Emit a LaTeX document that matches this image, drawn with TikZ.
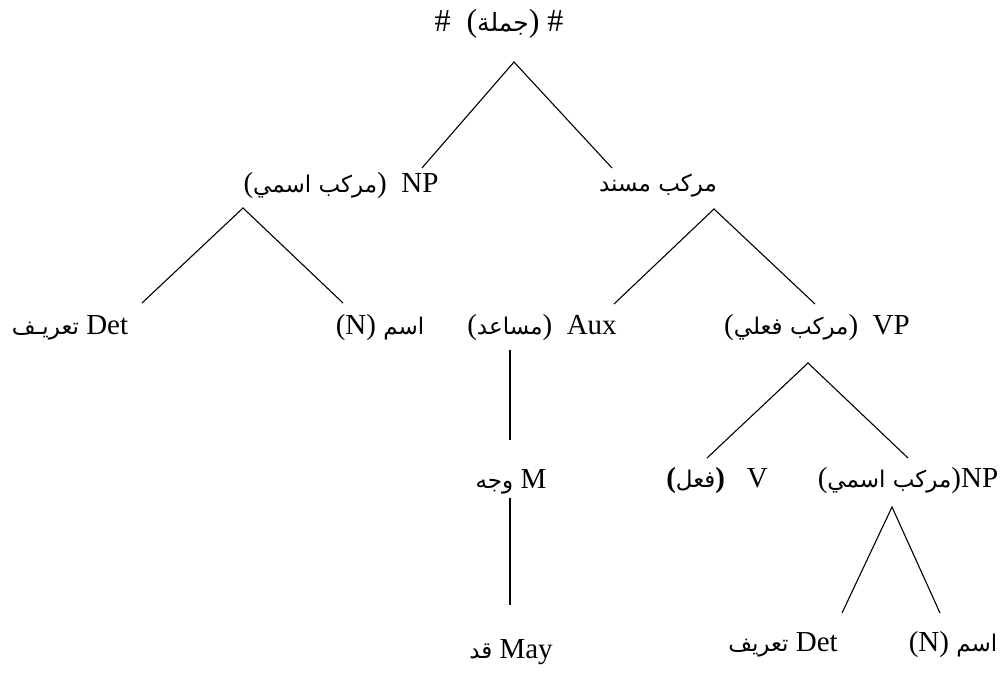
\documentclass[tikz,border=0pt]{standalone}
\usepackage{fontspec}
\setmainfont{Liberation Serif}
\newfontfamily\arfont[Script=Arabic]{DejaVu Sans}
\TeXXeTstate=1
\newcommand{\AR}[1]{{\arfont\fontsize{23}{26}\selectfont\beginR #1\endR}}
\newcommand{\ARbig}[1]{{\arfont\fontsize{25}{28}\selectfont\beginR #1\endR}}
\begin{document}
\begin{tikzpicture}[x=1pt,y=-1pt,
  lbl/.style={inner sep=0pt,font=\fontsize{29}{33}\selectfont},
  rootlbl/.style={inner sep=0pt,font=\fontsize{32}{36}\selectfont},
  edge/.style={line width=1.1pt}]
\useasboundingbox (0,0) rectangle (1006,676);
% labels
\node[rootlbl] (root) at (499,24) {\#\ \ (\ARbig{جملة})\ \#};
\node[lbl] (np1) at (341,186) {(\AR{مركب اسمي})\ \ NP};
\node[lbl] (pred) at (658,186) {\AR{مركب مسند}};
\node[lbl] (det1) at (70,328) {\AR{تعريـف}\ Det};
\node[lbl] (n1) at (380,328) {(N)\ \AR{اسم}};
\node[lbl] (aux) at (542,328) {(\AR{مساعد})\ \ Aux};
\node[lbl] (vp) at (817,328) {(\AR{مركب فعلي})\ \ VP};
\node[lbl] (m) at (511,482) {\AR{وجه}\ M};
\node[lbl] (v) at (717,481) {\textbf{(}\AR{فعل}\textbf{)}\ \ \ V};
\node[lbl] (np2) at (908,481) {(\AR{مركب اسمي})NP};
\node[lbl] (may) at (511,652) {\AR{قد}\ May};
\node[lbl] (det2) at (783,645) {\AR{تعريف}\ Det};
\node[lbl] (n2) at (953,645) {(N)\ \AR{اسم}};
% attachment points
\coordinate (root-b) at (514,62);
\coordinate (np1-t) at (422,168);
\coordinate (pred-t) at (612,168);
\coordinate (np1-b) at (243,208);
\coordinate (det1-t) at (142,303);
\coordinate (n1-t) at (343,303);
\coordinate (pred-b) at (714,209);
\coordinate (aux-t) at (614,304);
\coordinate (vp-t) at (815,304);
\coordinate (aux-b) at (510,350);
\coordinate (m-t) at (510,440);
\coordinate (m-b) at (510,498);
\coordinate (may-t) at (510,605);
\coordinate (vp-b) at (808,363);
\coordinate (v-t) at (707,458);
\coordinate (np2-t) at (908,458);
\coordinate (np2-b) at (892,507);
\coordinate (det2-t) at (842,613);
\coordinate (n2-t) at (940,613);
% edges
\draw[edge] (np1-t) -- (root-b) -- (pred-t);
\draw[edge] (det1-t) -- (np1-b) -- (n1-t);
\draw[edge] (aux-t) -- (pred-b) -- (vp-t);
\draw[edge] (aux-b) -- (m-t);
\draw[edge] (m-b) -- (may-t);
\draw[edge] (v-t) -- (vp-b) -- (np2-t);
\draw[edge] (det2-t) -- (np2-b) -- (n2-t);
\end{tikzpicture}
\end{document}
